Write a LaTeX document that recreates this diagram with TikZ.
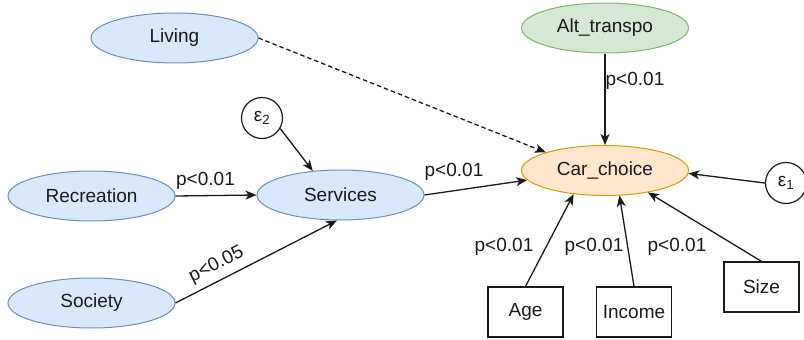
\documentclass[tikz,border=0pt]{standalone}
\usepackage{fontspec}
\setmainfont{Liberation Sans}
\usetikzlibrary{shapes.geometric,arrows.meta}
\definecolor{bfill}{HTML}{DAE8FC}
\definecolor{bline}{HTML}{6C8EBF}
\definecolor{gfill}{HTML}{D5E8D4}
\definecolor{gline}{HTML}{82B366}
\definecolor{ofill}{HTML}{FFE6CC}
\definecolor{oline}{HTML}{D79B00}
\definecolor{ink}{HTML}{1A1A1A}
\begin{document}
\begin{tikzpicture}[x=1pt,y=-1pt,
  every node/.style={font=\fontsize{19}{22}\selectfont, text=ink},
  var/.style={ellipse, draw, line width=1pt, minimum width=167pt, minimum height=50pt, inner sep=0pt},
  bluevar/.style={var, fill=bfill, draw=bline},
  greenvar/.style={var, fill=gfill, draw=gline},
  orangevar/.style={var, fill=ofill, draw=oline},
  obsbox/.style={rectangle, draw=ink, line width=1.2pt, minimum width=75pt, minimum height=50pt, inner sep=0pt},
  errnode/.style={circle, draw=ink, line width=1.2pt, minimum size=41pt, inner sep=0pt},
  arr/.style={draw=ink, line width=1.3pt, -{Stealth[length=11pt,width=9pt,inset=3pt]}},
  dasharr/.style={arr, dash pattern=on 4.5pt off 3pt},
  plabel/.style={inner sep=0pt}
]
\useasboundingbox (0,0) rectangle (804,340);

% latent and observed variables
\node[bluevar]   (liv) at (174.5,38)  {Living};
\node[greenvar]  (alt) at (605,28)    {Alt\_transpo};
\node[orangevar] (car) at (605,170.5) {Car\_choice};
\node[bluevar]   (rec) at (91.5,196)  {Recreation};
\node[bluevar]   (srv) at (340.5,195) {Services};
\node[bluevar]   (soc) at (91.5,303)  {Society};

\node[errnode] (e2) at (262,118) {ε\textsubscript{2}};
\node[errnode] (e1) at (786,183) {ε\textsubscript{1}};

\node[obsbox] (age)  at (525.5,312) {Age};
\node[obsbox] (inc)  at (634,312)   {Income};
\node[obsbox] (size) at (761.5,287) {Size};

% paths
\draw[arr] (rec.east) -- (srv.west);
\draw[arr] (soc.east) -- (srv.262);
\draw[arr] (e2.-30) -- (srv.139);
\draw[arr] (srv.east) -- (car.187);
\draw[dasharr] (liv.east) -- (car.163);
\draw[arr] (alt.south) -- (car.north);
\draw[arr] (e1.west) -- (car.358);
\draw[arr] (age.north) -- (car.217);
\draw[arr] (inc.north) -- (car.300);
\draw[arr] (size.north) -- (car.333);

% significance labels
\node[plabel] (lrec)  at (205.5,181) {p<0.01};
\node[plabel, rotate=26.6] (lsoc) at (216.5,265) {p<0.05};
\node[plabel] (lsrv)  at (454,172)   {p<0.01};
\node[plabel] (lalt)  at (635,81)    {p<0.01};
\node[plabel] (lage)  at (504,247)   {p<0.01};
\node[plabel] (linc)  at (594,247)   {p<0.01};
\node[plabel] (lsize) at (677,247)   {p<0.01};
\end{tikzpicture}
\end{document}
